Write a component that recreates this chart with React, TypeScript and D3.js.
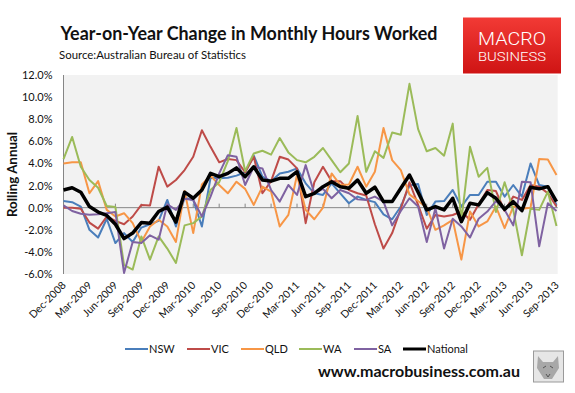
import React from 'react';
import * as d3 from 'd3';

// monthly categories, Dec-2008 .. Sep-2013
const months = d3.timeMonth.range(new Date(2008, 11, 1), new Date(2013, 9, 1));
const categories = months.map(d3.timeFormat('%b-%Y'));
const tickLabels = categories.filter((_, i) => i % 3 === 0);
const yTicks = [-6, -4, -2, 0, 2, 4, 6, 8, 10, 12];

const nsw = [0.6, 0.5, 0.1, -2.0, -2.7, -1.0, -3.2, -2.3, -3.1, -1.8, -1.5, -1.2, 0.7, -1.7, 0.9, 0.7, -1.7, 2.7, 2.65, 2.7,
  2.9, 3.2, 4.7, 2.8, 2.4, 3.1, 3.25, 3.55, 2.2, 1.3, 1.15, 2.2, 1.3, 0.4, 1.0, 0.7, 0.5, -0.6, -1.05, 0.1,
  2.0, 2.15, -0.66, 0.55, 0.6, 1.6, 0.1, 1.15, 1.15, 2.35, 2.35, 1.0, 2.05, 1.0, 4.0, 2.05, 1.9, 0.25];
const vic = [0, 0, -0.1, -1.35, -1.9, -0.8, -1.2, -1.5, -0.8, 0.25, 0.2, 3.7, 1.9, 2.5, 3.4, 4.6, 7.0, 5.5, 4.1, 4.4,
  4.3, 3.2, 4.6, 1.3, 2.4, 4.6, 4.35, 3.55, -1.4, 2.3, 3.7, 2.4, 2.4, 1.6, 1.3, 1.1, -1.5, -3.7, -2.3, -0.1,
  2.3, 0.25, -1.9, -0.66, -0.8, -0.66, -0.35, -1.1, 0.3, 1.6, 1.5, -0.3, 1.0, 0.7, 2.05, 1.9, 1.3, 0.1];
const qld = [4.0, 4.1, 4.1, 1.3, 2.4, -0.2, -0.8, -0.5, -1.4, -3.1, -1.7, -1.1, -1.7, -3.1, 1.5, -2.3, 2.1, 2.9, 2.05, 1.3,
  2.35, 1.7, 0.25, 1.9, 1.45, -1.7, -0.65, 2.95, -0.2, -1.05, 0.0, 3.1, 2.05, 2.1, 3.7, 1.9, 3.25, 7.2, 4.3, 3.4,
  1.2, 0.6, 0.0, -2.0, -1.6, -1.1, -4.7, -0.35, -1.7, -1.25, 0.1, -1.85, 0.1, -0.1, 0.0, 4.4, 4.35, 2.95];
const wa = [4.4, 6.4, 3.7, 2.5, 1.8, 0.15, 0.05, -5.2, -5.6, -2.6, -4.7, -2.6, -3.7, -5.0, -1.6, -1.4, -0.8, 1.6, 2.3, 4.2,
  7.2, 3.3, 4.9, 5.15, 4.8, 6.3, 5.0, 4.3, 4.1, 4.6, 5.4, 4.3, 3.2, 4.0, 8.3, 3.25, 5.1, 4.5, 6.8, 6.6,
  11.2, 7.1, 5.1, 5.4, 4.7, 7.6, -1.2, 5.5, 2.8, 3.6, -0.4, 2.3, -0.2, -4.3, -0.1, -0.2, 1.45, -1.65];
const sa = [0.2, -0.3, -0.55, -0.65, -0.6, -0.5, -0.4, -5.9, -3.1, -3.2, -2.5, -2.9, 0.3, -0.2, 0.8, 0.7, -0.8, 1.0, 3.1, 4.75,
  4.6, 2.05, 3.7, 3.55, 1.6, 0.55, 2.05, 1.15, 3.85, 1.3, 1.7, 0.85, 1.6, 1.3, 0.75, 0.7, 1.0, 0.55, -1.6, -0.3,
  0.85, 0.1, -3.1, -0.05, -3.7, -1.0, -1.7, -2.7, -1.0, -0.35, 0.6, -0.2, -1.6, 2.35, 2.3, -3.5, 0.4, -0.3];
const national = [1.6, 1.8, 1.4, 0.1, -0.4, -0.7, -1.5, -2.8, -2.3, -1.35, -1.4, -0.35, 0.05, -1.3, 1.4, 0.85, 1.6, 3.1, 2.8, 3.1,
  3.6, 2.8, 3.7, 2.5, 2.4, 2.65, 2.65, 3.25, 1.0, 1.3, 1.9, 2.35, 1.9, 1.75, 2.5, 1.3, 1.85, 0.55, 0.55, 1.75,
  2.95, 1.4, -0.2, 0.1, -0.2, 0.85, -1.27, 0.4, 0.25, 1.36, 0.85, -0.15, 0.55, -0.27, 1.85, 1.7, 1.9, 0.55];

const series = [
  { name: 'NSW', color: '#4a7ebb', width: 2, values: nsw },
  { name: 'VIC', color: '#be4b48', width: 2, values: vic },
  { name: 'QLD', color: '#f79646', width: 2, values: qld },
  { name: 'WA', color: '#9bbb59', width: 2, values: wa },
  { name: 'SA', color: '#7f62a1', width: 2, values: sa },
  { name: 'National', color: '#000000', width: 3.5, values: national },
];
const legendX = [125, 187, 241, 299, 354, 403];

const font = 'Lato, "Open Sans", sans-serif';

export default function App() {
  const left = 63.5, right = 557.7, top = 75, bottom = 274;
  const x = d3.scalePoint<string>().domain(categories).range([left, 556.5]);
  const y = d3.scaleLinear().domain([-6, 12]).range([bottom, top]);
  const line = d3.line<number>()
    .x((_, i) => x(categories[i]) as number)
    .y(d => y(d));
  const y0 = y(0);

  return (
    <svg width={575} height={393} style={{ position: 'absolute', left: 0, top: 0, background: '#fff' }}
      fontFamily={font}>
      <defs>
        <linearGradient id="logo" x1="0" y1="0" x2="0" y2="1">
          <stop offset="0" stopColor="#f23a35" />
          <stop offset="1" stopColor="#cf1414" />
        </linearGradient>
      </defs>

      {/* header */}
      <text x={60.5} y={40} fontSize={18} fontWeight="bold" fill="#111" textLength={377}
        lengthAdjust="spacingAndGlyphs">Year-on-Year Change in Monthly Hours Worked</text>
      <text x={59} y={59} fontSize={11.5} fill="#111" textLength={187}
        lengthAdjust="spacingAndGlyphs">Source:Australian Bureau of Statistics</text>

      <rect x={463} y={17.5} width={98} height={56} fill="url(#logo)" />
      <text x={512} y={44.5} fontSize={18.5} fontFamily="Roboto, sans-serif" fontWeight={300} fill="#fff"
        textAnchor="middle" textLength={68} lengthAdjust="spacingAndGlyphs">MACRO</text>
      <text x={512} y={60.5} fontSize={12} fontFamily="Roboto, sans-serif" fontWeight={300} fill="#fff"
        textAnchor="middle" textLength={68} lengthAdjust="spacingAndGlyphs">BUSINESS</text>

      {/* plot area */}
      <rect x={left} y={top} width={right - left} height={bottom - top} fill="#f2f2f2" />
      <line x1={left} x2={left} y1={top} y2={bottom} stroke="#868686" />
      <line x1={left} x2={right} y1={y0} y2={y0} stroke="#868686" />
      {tickLabels.map(c => (
        <line key={c} x1={x(c)} x2={x(c)} y1={y0 - 4} y2={y0} stroke="#868686" />
      ))}

      {yTicks.map(v => (
        <text key={v} x={52.5} y={y(v) + 4} fontSize={11} textAnchor="end" fill="#111">
          {v.toFixed(1)}%
        </text>
      ))}
      <text transform={`translate(17,174.5) rotate(-90)`} fontSize={14} fontWeight="bold" textAnchor="middle"
        fill="#111" textLength={85} lengthAdjust="spacingAndGlyphs">Rolling Annual</text>

      {tickLabels.map(c => (
        <text key={c} transform={`translate(${(x(c) as number) + 3},286) rotate(-45)`} fontSize={10.5}
          textAnchor="end" fill="#111">{c}</text>
      ))}

      {/* series */}
      {series.map(s => (
        <path key={s.name} d={line(s.values) ?? ''} fill="none" stroke={s.color} strokeWidth={s.width}
          strokeLinejoin="round" />
      ))}

      {/* legend */}
      {series.map((s, i) => (
        <g key={s.name} transform={`translate(${legendX[i]},349)`}>
          <line x1={0} x2={23} y1={0} y2={0} stroke={s.color} strokeWidth={s.width === 2 ? 2 : 3} />
          <text x={24} y={4} fontSize={11} fill="#111">{s.name}</text>
        </g>
      ))}

      {/* footer */}
      <text x={318} y={377} fontSize={15} fontWeight="bold" fill="#111" textLength={202}
        lengthAdjust="spacingAndGlyphs">www.macrobusiness.com.au</text>
      <rect x={533.5} y={351} width={30} height={31} fill="#e6e6e6" stroke="#9a9a9a" />
      <path d="M538,356 L543,362 L553,362 L558,356 L559,368 L552,379 L544,379 L537,368 Z" fill="#a8a8a8" />
      <path d="M543,368 L546,366 M550,366 L553,368 M546,374 L548,377 L550,374" stroke="#555" fill="none" />
    </svg>
  );
}
